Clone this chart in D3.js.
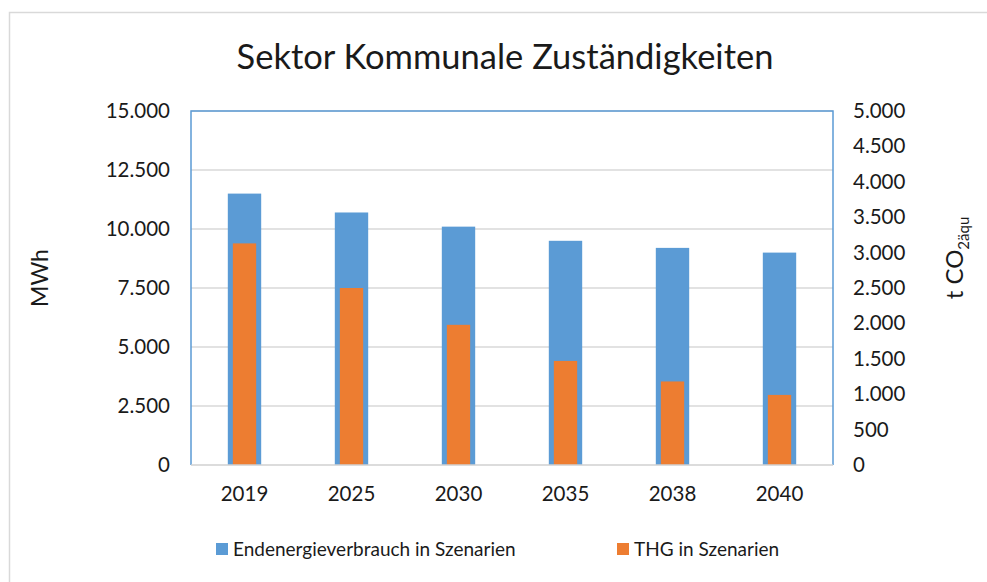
<!DOCTYPE html>
<html>
<head>
<meta charset="utf-8">
<script src="https://cdn.jsdelivr.net/npm/d3@7"></script>
<style>
  body { margin: 0; background: #fff; }
  text { font-family: Lato, "Open Sans", sans-serif; fill: #1a1a1a; }
</style>
</head>
<body>
<script>
// chart values
const years = ['2019', '2025', '2030', '2035', '2038', '2040'];
const energy = [11500, 10700, 10100, 9500, 9200, 9000];   // MWh, left axis
const ghg = [3130, 2500, 1980, 1470, 1180, 990];          // t CO2äqu, right axis
const leftTicks = [0, 2500, 5000, 7500, 10000, 12500, 15000];
const rightTicks = [0, 500, 1000, 1500, 2000, 2500, 3000, 3500, 4000, 4500, 5000];
const seriesNames = ['Endenergieverbrauch in Szenarien', 'THG in Szenarien'];

const W = 987, H = 582;
const blue = '#5b9bd5', orange = '#ed7d31';
const margin = {left: 191, right: 154, top: 111, bottom: 117};

const svg = d3.select('body').append('svg')
    .attr('width', W)
    .attr('height', H);

// outer chart frame (only left and top edges visible)
svg.append('path')
    .attr('d', `M9.5,${H} V12.5 H${W}`)
    .attr('fill', 'none')
    .attr('stroke', '#d9d9d9')
    .attr('stroke-width', 1.5);

const x = d3.scaleBand()
    .domain(years)
    .range([margin.left, W - margin.right]);
const yL = d3.scaleLinear()
    .domain([0, 15000])
    .range([H - margin.bottom, margin.top]);
const yR = d3.scaleLinear()
    .domain([0, 5000])
    .range([H - margin.bottom, margin.top]);

const fmt = d3.formatLocale({decimal: ',', thousands: '.', grouping: [3]}).format(',');

// gridlines
svg.append('g')
    .selectAll('line')
    .data(leftTicks.slice(1))
    .join('line')
    .attr('x1', margin.left).attr('x2', W - margin.right)
    .attr('y1', d => yL(d)).attr('y2', d => yL(d))
    .attr('stroke', '#d9d9d9')
    .attr('stroke-width', 1.5);

// bars
const bw = x.bandwidth();
svg.append('g')
    .selectAll('rect')
    .data(energy)
    .join('rect')
    .attr('x', (d, i) => x(years[i]) + bw / 2 - bw * 0.156)
    .attr('width', bw * 0.312)
    .attr('y', d => yL(d))
    .attr('height', d => yL(0) - yL(d))
    .attr('fill', blue);

svg.append('g')
    .selectAll('rect')
    .data(ghg)
    .join('rect')
    .attr('x', (d, i) => x(years[i]) + bw / 2 - bw * 0.109)
    .attr('width', bw * 0.218)
    .attr('y', d => yR(d))
    .attr('height', d => yR(0) - yR(d))
    .attr('fill', orange);

// plot frame: blue left, top, right; grey bottom axis
svg.append('path')
    .attr('d', `M${margin.left},${H - margin.bottom} V${margin.top} H${W - margin.right} V${H - margin.bottom}`)
    .attr('fill', 'none')
    .attr('stroke', blue)
    .attr('stroke-width', 1.5);
svg.append('line')
    .attr('x1', margin.left).attr('x2', W - margin.right)
    .attr('y1', yL(0)).attr('y2', yL(0))
    .attr('stroke', '#d0d0d0')
    .attr('stroke-width', 1.5);

// axes
const axisL = svg.append('g')
    .attr('transform', `translate(${margin.left},0)`)
    .call(d3.axisLeft(yL).tickValues(leftTicks).tickFormat(fmt).tickSize(0).tickPadding(21));
const axisR = svg.append('g')
    .attr('transform', `translate(${W - margin.right},0)`)
    .call(d3.axisRight(yR).tickValues(rightTicks).tickFormat(fmt).tickSize(0).tickPadding(20));
const axisB = svg.append('g')
    .attr('transform', `translate(0,${H - margin.bottom})`)
    .call(d3.axisBottom(x).tickSize(0).tickPadding(21));
[axisL, axisR, axisB].forEach(a => {
    a.select('.domain').remove();
    a.selectAll('text').style('font-size', '20.5px').attr('fill', '#1a1a1a');
});

// title
svg.append('text')
    .attr('x', 505).attr('y', 69)
    .attr('text-anchor', 'middle')
    .style('font-size', '34.5px')
    .text('Sektor Kommunale Zuständigkeiten');

// axis titles
svg.append('text')
    .attr('transform', 'translate(48,278) rotate(-90)')
    .attr('text-anchor', 'middle')
    .style('font-size', '23px')
    .text('MWh');

const rt = svg.append('text')
    .attr('transform', 'translate(963,258) rotate(-90)')
    .attr('text-anchor', 'middle')
    .style('font-size', '24px');
rt.append('tspan').text('t CO');
rt.append('tspan').attr('dy', 6).style('font-size', '15px').text('2äqu');

// legend
const legend = svg.append('g').attr('transform', 'translate(0,549)');
const legX = [216, 617];
seriesNames.forEach((name, i) => {
    legend.append('rect')
        .attr('x', legX[i]).attr('y', -6)
        .attr('width', 12).attr('height', 12)
        .attr('fill', i === 0 ? blue : orange);
    legend.append('text')
        .attr('x', legX[i] + 17).attr('y', 7)
        .style('font-size', '19px')
        .text(name);
});
</script>
</body>
</html>
